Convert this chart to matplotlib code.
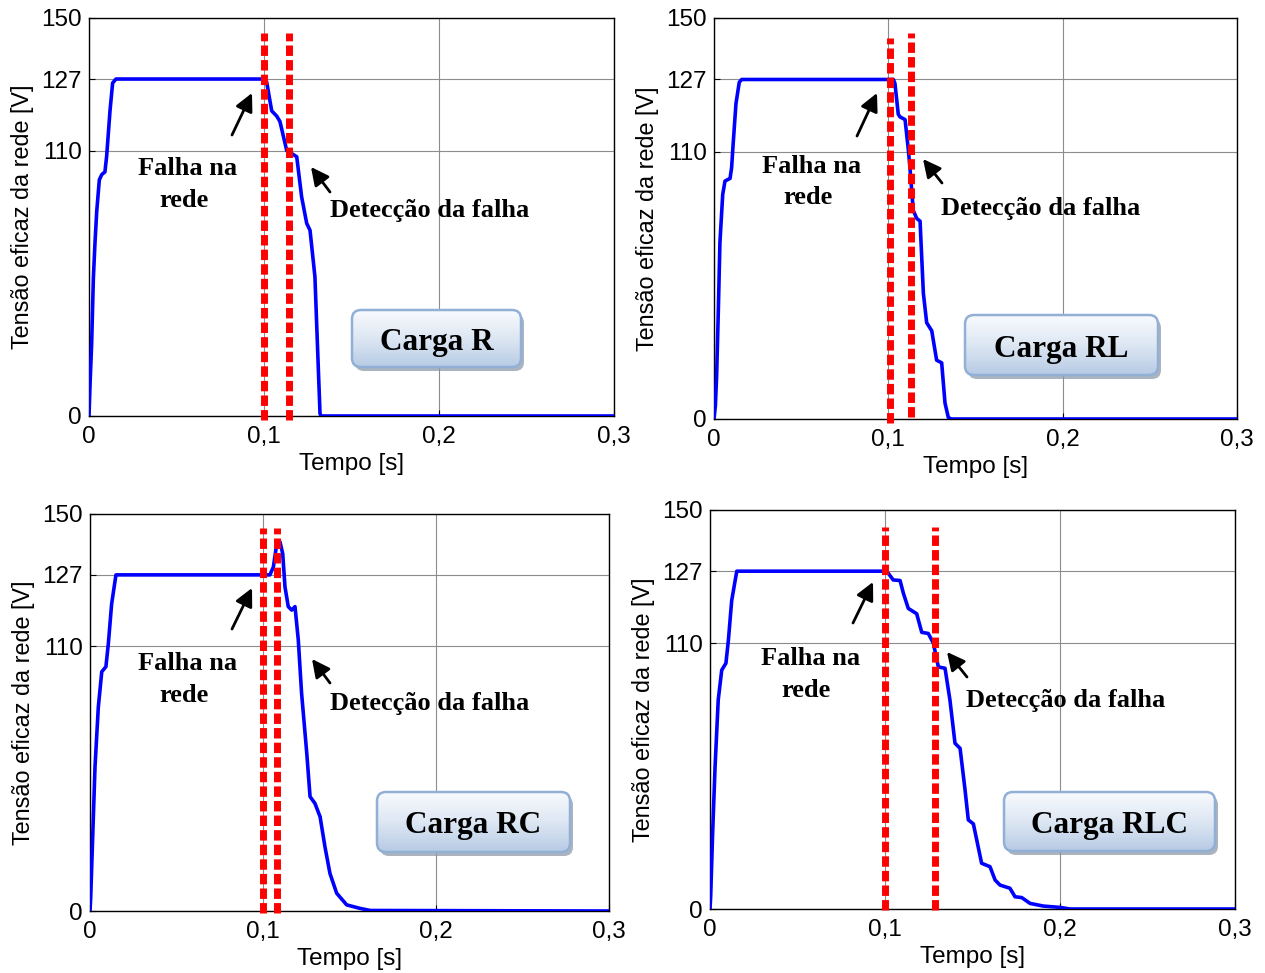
import numpy as np
import matplotlib
matplotlib.use("Agg")
import matplotlib.pyplot as plt
from matplotlib.patches import FancyBboxPatch
from matplotlib.colors import LinearSegmentedColormap

# tempo [s] e tensao eficaz [V]
t_R = [0, 0.0006, 0.0015, 0.0025, 0.0034, 0.0044, 0.0059, 0.0073, 0.0091, 0.0101, 0.012, 0.0135, 0.0154,
       0.1, 0.1015, 0.1044, 0.1073, 0.1091, 0.113, 0.1145, 0.1187, 0.1215, 0.1244, 0.1263, 0.1291, 0.1305,
       0.132, 0.1325, 0.3]
v_R = [0, 12, 27, 52, 65, 77, 89, 91, 92, 98, 115, 125.5, 127,
       127, 126, 115, 113, 111, 100, 99.5, 97.7, 82.6, 72.6, 70, 52.5, 27.5,
       1, 0, 0]

t_RL = [0, 0.0008, 0.0015, 0.0025, 0.0034, 0.005, 0.0063, 0.0092, 0.0101, 0.011, 0.0126, 0.0145, 0.0159,
        0.1029, 0.1038, 0.1057, 0.1067, 0.1096, 0.1115, 0.1124, 0.1143, 0.1163, 0.1182, 0.1201, 0.122,
        0.1249, 0.1277, 0.1306, 0.1325, 0.1344, 0.136, 0.3]
v_RL = [0, 5, 16, 41, 66, 84, 89, 90, 94, 103, 118, 126, 127,
        127, 125.5, 114, 113, 112, 100.5, 94, 78, 75, 74, 47, 36,
        33, 22, 21, 6, 0.6, 0, 0]

t_RC = [0, 0.0004, 0.0016, 0.0029, 0.0048, 0.0068, 0.0092, 0.0106, 0.0125, 0.015,
        0.104, 0.106, 0.108, 0.1098, 0.1114, 0.1127, 0.1146, 0.1166, 0.1185, 0.1204, 0.1223, 0.1253,
        0.1272, 0.13, 0.133, 0.1358, 0.1387, 0.1426, 0.1484, 0.156, 0.162, 0.3]
v_RC = [0, 5, 29, 54.5, 77, 90.4, 92.3, 101, 116, 127,
        127, 130, 139, 139.5, 135, 122.5, 115, 113.7, 115, 102.4, 82.3, 59.6,
        43.2, 40.7, 35.6, 24.3, 14.2, 6.7, 2.3, 1, 0.2, 0]

t_RLC = [0, 0.0004, 0.0015, 0.0029, 0.0047, 0.0067, 0.0091, 0.0105, 0.0124, 0.0153,
         0.101, 0.1047, 0.1086, 0.1105, 0.1133, 0.1181, 0.121, 0.1247, 0.1276, 0.1305, 0.1343, 0.1371,
         0.14, 0.1429, 0.1457, 0.1476, 0.1505, 0.1552, 0.16, 0.1629, 0.1657, 0.1714, 0.1743, 0.1781,
         0.1829, 0.1905, 0.2, 0.2057, 0.3]
v_RLC = [0, 5, 28.5, 53.5, 78.6, 89.8, 92.4, 101, 116, 127,
         127, 123.7, 123.5, 118.7, 113, 111, 104, 103.6, 100, 91, 90.5, 78.6,
         62.3, 60.4, 45, 33.5, 32, 17.2, 15.9, 10.9, 9, 7.8, 4.6, 4.3,
         2.1, 1.1, 0.6, 0, 0]

# instantes da falha e da deteccao (linhas vermelhas)
falha = [0.1, 0.101, 0.1002, 0.1002]
deteccao = [0.1145, 0.113, 0.108, 0.1287]
cargas = ["Carga R", "Carga RL", "Carga RC", "Carga RLC"]

x_ticks = [0, 0.1, 0.2, 0.3]
x_labels = ["0", "0,1", "0,2", "0,3"]
y_ticks = [0, 100, 127, 150]
y_labels = ["0", "110", "127", "150"]

W, H = 1265, 973
fig = plt.figure(figsize=(W / 100, H / 100), dpi=100)
sans = "Liberation Sans"
serif = "Liberation Serif"

# posicoes dos eixos em pixels: esquerda, direita, topo, base
boxes_ax = [(89, 614, 18, 416), (714, 1237, 18, 419), (90, 609, 514, 911), (710, 1235, 510, 909)]
series = [(t_R, v_R), (t_RL, v_RL), (t_RC, v_RC), (t_RLC, v_RLC)]
red_span = [[(-1.5, 144.3), (-1.5, 144.3)], [(-1.5, 142.5), (0.7, 144.4)],
            [(-0.8, 144.7), (-0.8, 144.7)], [(-0.4, 143.6), (-0.4, 143.6)]]

for i, (l, r, tp, bt) in enumerate(boxes_ax):
    ax = fig.add_axes([l / W, 1 - bt / H, (r - l) / W, (bt - tp) / H])
    t, v = series[i]
    ax.plot(t, v, color="#0000ff", lw=2.6, zorder=3, solid_joinstyle="round")
    for xv, (y0, y1) in zip([falha[i], deteccao[i]], red_span[i]):
        ax.plot([xv, xv], [y0, y1], color="#ff0000", lw=5, dashes=(1.5, 0.6),
                clip_on=False, zorder=4, dash_capstyle="butt")
    ax.set_xlim(0, 0.3)
    ax.set_ylim(0, 150)
    ax.set_xticks(x_ticks)
    ax.set_xticklabels(x_labels, fontsize=17.5, family=sans)
    ax.set_yticks(y_ticks)
    ax.set_yticklabels(y_labels, fontsize=17.5, family=sans)
    ax.tick_params(direction="in", length=4, width=0.8, pad=7)
    ax.tick_params(axis="y", pad=5)
    ax.grid(True, color="#8c8c8c", lw=0.8)
    for s in ax.spines.values():
        s.set_linewidth(1.0)
    ax.set_xlabel("Tempo [s]", fontsize=17.5, family=sans, labelpad=4)
    ax.set_ylabel("Tensão eficaz da rede [V]", fontsize=16.8, family=sans, labelpad=5)

# camada de anotacoes em coordenadas de pixel
ov = fig.add_axes([0, 0, 1, 1], zorder=10)
ov.patch.set_visible(False)
ov.axis("off")

cmap = LinearSegmentedColormap.from_list("caixa", ["#f8fafd", "#dde7f3", "#b7cbe4"])
grad = np.linspace(0, 1, 100).reshape(-1, 1)
label_boxes = [(352, 310, 521, 367), (965, 315, 1158, 375), (377, 792, 570, 852), (1004, 792, 1215, 851)]
for (x0, y0, x1, y1), txt in zip(label_boxes, cargas):
    sh = FancyBboxPatch((x0 + 3, y0 + 4), x1 - x0, y1 - y0, boxstyle="round,pad=0,rounding_size=9",
                        fc="#8f9aa8", ec="none", alpha=0.75)
    ov.add_patch(sh)
    bx = FancyBboxPatch((x0, y0), x1 - x0, y1 - y0, boxstyle="round,pad=0,rounding_size=9",
                        fc="none", ec="#92b0d6", lw=1.8, zorder=3)
    ov.add_patch(bx)
    im = ov.imshow(grad, cmap=cmap, extent=(x0, x1, y1, y0), aspect="auto", zorder=2)
    im.set_clip_path(bx)
    ov.text((x0 + x1) / 2, (y0 + y1) / 2 + 4, txt, ha="center", va="center",
            fontsize=22.5, fontweight="bold", family=serif, zorder=4)

# textos "Falha na rede" e "Deteccao da falha"
falha_txt = [(188, 175, 184, 207), (812, 173, 808, 204), (188, 670, 184, 702), (811, 665, 806, 697)]
det_txt = [(330, 217), (941, 215), (330, 710), (966, 707)]
for (xa, ya, xb, yb), (xd, yd) in zip(falha_txt, det_txt):
    ov.text(xa, ya, "Falha na", ha="center", va="baseline", fontsize=19, fontweight="bold", family=serif)
    ov.text(xb, yb, "rede", ha="center", va="baseline", fontsize=19, fontweight="bold", family=serif)
    ov.text(xd, yd, "Detecção da falha", ha="left", va="baseline", fontsize=19, fontweight="bold", family=serif)

arrows = [((232, 135), (252, 93)), ((330, 192), (311, 167)),
          ((857, 136), (877, 93)), ((942, 183), (923, 159)),
          ((232, 629), (252, 588)), ((330, 683), (312, 659)),
          ((853, 623), (873, 582)), ((967, 677), (947, 652))]
for tail, head in arrows:
    ov.annotate("", xy=head, xytext=tail,
                arrowprops=dict(arrowstyle="-|>,head_length=0.6,head_width=0.3", color="k", lw=2,
                                shrinkA=0, shrinkB=0, mutation_scale=18))

ov.set_xlim(0, W)
ov.set_ylim(H, 0)

fig.savefig("out.png", dpi=100, facecolor="white")
